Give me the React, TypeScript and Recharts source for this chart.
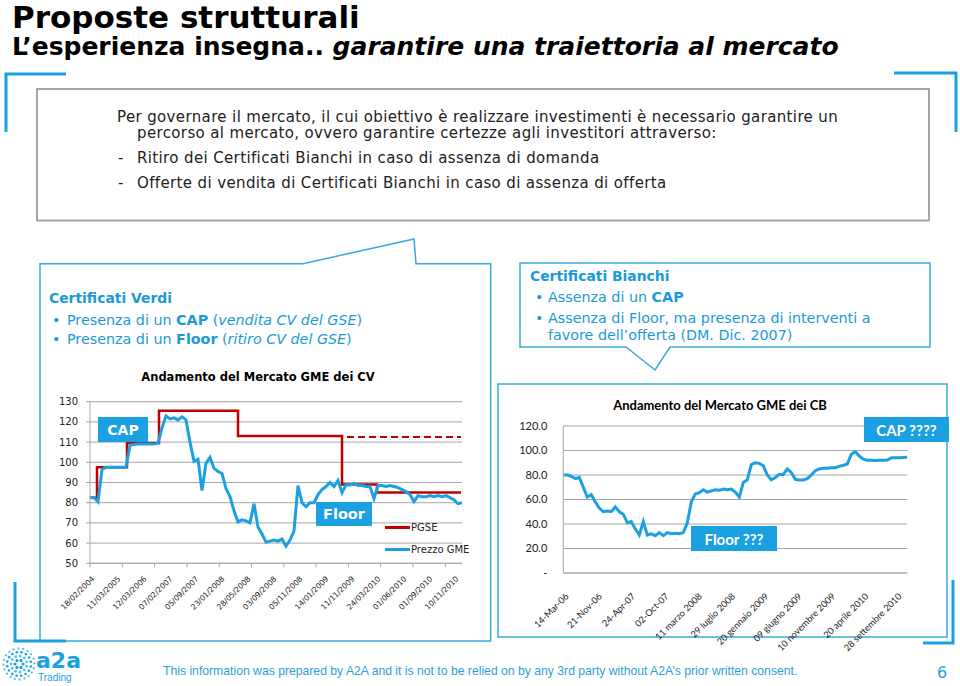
import React from "react";
import { LineChart, Line, XAxis, YAxis, CartesianGrid } from "recharts";

const BLUE = "#1ba1e2";
const RED = "#c00000";
const GRID = "#a6a6a6";
const TEXT_BLUE = "#1c9ad6";

// --- Andamento del Mercato GME dei CV ---
const cvTickLabels = [
  "18/02/2004", "11/03/2005", "12/03/2006", "07/02/2007", "05/09/2007",
  "23/01/2008", "28/05/2008", "03/09/2008", "05/11/2008", "14/01/2009",
  "11/11/2009", "24/03/2010", "01/06/2010", "01/09/2010", "10/11/2010",
];
const gmeValues = [
  82.5, 82.5, 80.5, 96.5, 97.5, 97.5, 97.5, 97.5, 97.5, 97.5,
  108.5, 108.8, 109, 109, 109, 109, 109, 109.5, 117, 123,
  121.5, 122, 121, 122.5, 121, 110, 100.5, 101.5, 86, 99.5,
  102.5, 97, 95.5, 94.5, 87, 83, 76, 70.5, 71.5, 71,
  70, 79.5, 68, 64.5, 60.5, 61, 61.5, 61, 62, 58.5,
  61.5, 66, 88.5, 80, 78, 80, 80, 84, 86.5, 88,
  90, 88, 91, 85, 88.8, 88.8, 89.5, 88.5, 88.5, 88,
  88, 82, 88.5, 88.5, 88, 88.5, 88, 87.5, 86.5, 85.5,
  84, 80.5, 83.5, 83, 83, 83.5, 83, 83.5, 83, 83.5,
  82.5, 81.5, 79.5, 80,
];
const pgseX = [0, 1.75, 9.25, 17.25, 37, 63, 71.75, 92.75];
const pgseY = [82.5, 97.5, 109.5, 125.5, 113, 89, 85, 85];
const pgseNextX = [64.25, 92.75];
const pgseNextY = [112.5, 112.5];
const cvYTicks = [50, 60, 70, 80, 90, 100, 110, 120, 130];
const cvLegend = [
  { name: "PGSE", color: RED },
  { name: "Prezzo GME", color: BLUE },
];

// --- Andamento del Mercato GME dei CB ---
const cbTickLabels = [
  "14-Mar-06", "21-Nov-06", "24-Apr-07", "02-Oct-07", "11 marzo 2008",
  "29 luglio 2008", "20 gennaio 2009", "09 giugno 2009", "10 novembre 2009",
  "20 aprile 2010", "28 settembre 2010",
];
const cbValues = [
  80, 80, 79, 77, 78, 70, 62, 64, 58, 53,
  50, 50.5, 50, 54, 50, 48, 41, 42, 36, 31,
  42, 31, 32, 30.5, 33, 30.5, 33, 32, 32.5, 32,
  33, 41, 58, 64.5, 65.5, 68, 66, 67, 68, 67.5,
  68.5, 68, 68.5, 66, 62, 74, 76, 88.5, 90, 89.5,
  87.5, 80, 76, 78, 80.5, 80.5, 85, 82, 76.5, 76,
  76, 77, 80, 83.5, 85, 85.5, 85.5, 86, 86, 87,
  88, 89, 97, 99, 95.5, 93, 92, 92, 91.8, 92,
  92, 92.2, 94, 94, 94, 94.3, 94.5,
];
const cbYTicks = [0, 20, 40, 60, 80, 100, 120];

const gmeData = gmeValues.map((v, i) => ({ i, gme: v }));
const pgseData = pgseX.map((x, k) => ({ i: x, pgse: pgseY[k] }));
const pgseNextData = pgseNextX.map((x, k) => ({ i: x, pgse: pgseNextY[k] }));
const cbData = cbValues.map((v, i) => ({ i, cb: v }));

const cvLabelTicks = cvTickLabels.map((_, k) => 0.75 + 6.5 * k);
const cvMarkTicks = Array.from({ length: 12 }, (_, k) => 8.075 * k);
const cbLabelTicks = cbTickLabels.map((_, k) => 0.5 + 8.325 * k);

function CvTick(props: any) {
  const { x, y, payload } = props;
  const li = cvLabelTicks.indexOf(payload.value);
  if (li < 0) {
    return <line x1={x} x2={x} y1={y} y2={y + 4} stroke={GRID} strokeWidth={1} />;
  }
  const tx = x + 2;
  const ty = y + 16;
  return (
    <text x={tx} y={ty} transform={`rotate(-45 ${tx} ${ty})`} textAnchor="end"
      fontFamily="DejaVu Sans" fontSize={7.6} fill="#222">
      {cvTickLabels[li]}
    </text>
  );
}

function CbTick(props: any) {
  const { x, y, payload } = props;
  const li = cbLabelTicks.indexOf(payload.value);
  if (li < 0) return null;
  const tx = x + 4;
  const ty = y + 24;
  return (
    <text x={tx} y={ty} transform={`rotate(-45 ${tx} ${ty})`} textAnchor="end"
      fontFamily="Lato" fontSize={9.2} fill="#222">
      {cbTickLabels[li]}
    </text>
  );
}

function CvChart() {
  return (
    <LineChart width={450} height={300} data={gmeData}
      margin={{ top: 41.7, right: 28, bottom: 19, left: 10 }}>
      <CartesianGrid vertical={false} stroke={GRID} strokeWidth={1} />
      <XAxis dataKey="i" type="number" domain={[0, 93]} allowDataOverflow
        ticks={[...cvMarkTicks, ...cvLabelTicks]} interval={0}
        tickLine={false} tickSize={0} tickMargin={0} height={77.7}
        axisLine={{ stroke: GRID }} tick={<CvTick />} />
      <YAxis domain={[50, 130]} ticks={cvYTicks} width={40} interval={0}
        axisLine={{ stroke: GRID }} tickLine={{ stroke: GRID }} tickSize={4} tickMargin={8}
        tick={{ fontFamily: "DejaVu Sans", fontSize: 10, fill: "#222" }} />
      <Line data={pgseData} dataKey="pgse" type="stepAfter" stroke={RED} strokeWidth={2.5}
        dot={false} isAnimationActive={false} />
      <Line data={pgseNextData} dataKey="pgse" type="linear" stroke={RED} strokeWidth={2}
        strokeDasharray="7 4" dot={false} isAnimationActive={false} />
      <Line dataKey="gme" type="linear" stroke={BLUE} strokeWidth={3}
        dot={false} isAnimationActive={false} />
    </LineChart>
  );
}

function CbChart() {
  return (
    <LineChart width={449} height={300} data={cbData}
      margin={{ top: 43, right: 39.7, bottom: 46, left: 15.3 }}>
      <CartesianGrid vertical={false} stroke={GRID} strokeWidth={1} />
      <XAxis dataKey="i" type="number" domain={[0, 86]} allowDataOverflow
        ticks={cbLabelTicks} interval={0} tickLine={false} tickSize={0} tickMargin={0}
        height={64} axisLine={{ stroke: GRID }} tick={<CbTick />} />
      <YAxis domain={[0, 120]} ticks={cbYTicks} width={50} interval={0}
        axisLine={{ stroke: GRID }} tickLine={false} tickSize={0} tickMargin={16}
        tickFormatter={(v: number) => (v === 0 ? "-" : v.toFixed(1))}
        tick={{ fontFamily: "Lato", fontSize: 11, fill: "#222" }} />
      <Line dataKey="cb" type="linear" stroke={BLUE} strokeWidth={3}
        dot={false} isAnimationActive={false} />
    </LineChart>
  );
}

const tagStyle = (left: number, top: number, w: number, h: number, font: string, size: number) => ({
  position: "absolute" as const, left, top, width: w, height: h, background: BLUE, color: "#fff",
  fontFamily: font, fontWeight: 700, fontSize: size, display: "flex",
  alignItems: "center", justifyContent: "center",
});

function Logo() {
  const dots: React.ReactNode[] = [];
  [[4, 6], [8, 11], [12, 16], [15.5, 20]].forEach(([r, n], ri) => {
    for (let k = 0; k < n; k++) {
      const a = (k / n) * Math.PI * 2 + ri * 0.3;
      dots.push(<circle key={`${ri}-${k}`} cx={19 + r * Math.cos(a)} cy={664 + r * Math.sin(a)}
        r={1.6 - ri * 0.15} fill={ri % 2 ? "#5cc0ea" : BLUE} />);
    }
  });
  return (
    <g>
      {dots}
      <text x={36} y={668} fontFamily="DejaVu Sans" fontWeight={700} fontSize={22} fill={BLUE}>a2a</text>
      <text x={38} y={681} fontFamily="Liberation Sans" fontSize={10} fill={BLUE}>Trading</text>
    </g>
  );
}

export default function App() {
  return (
    <div style={{ position: "absolute", left: 0, top: 0, width: 960, height: 686, background: "#fff", overflow: "hidden" }}>
      <svg width={960} height={686} style={{ position: "absolute", left: 0, top: 0 }}>
        <text x={12} y={28} fontFamily="DejaVu Sans" fontWeight={700} fontSize={31} fill="#000">Proposte strutturali</text>
        <text x={12} y={55} fontFamily="DejaVu Sans" fontWeight={700} fontSize={25} fill="#000">
          L’esperienza insegna.. <tspan fontStyle="italic">garantire una traiettoria al mercato</tspan>
        </text>

        <polyline points="66,74 6,74 6,132" fill="none" stroke={BLUE} strokeWidth={3} />
        <polyline points="894,73 956,73 956,132" fill="none" stroke={BLUE} strokeWidth={3} />
        <rect x={37} y={89} width={892} height={131.5} fill="none" stroke={GRID} strokeWidth={2} />

        <g fontFamily="DejaVu Sans" fontSize={15} letterSpacing={0.37} fill="#222">
          <text x={117} y={122}>Per governare il mercato, il cui obiettivo è realizzare investimenti è necessario garantire un</text>
          <text x={137} y={138}>percorso al mercato, ovvero garantire certezze agli investitori attraverso:</text>
          <text x={118} y={163}>-</text>
          <text x={137} y={163}>Ritiro dei Certificati Bianchi in caso di assenza di domanda</text>
          <text x={118} y={188}>-</text>
          <text x={137} y={188}>Offerte di vendita di Certificati Bianchi in caso di assenza di offerta</text>
        </g>

        <path d="M40,263.7 L303,263.7 L414,239 L416,263.7 L490.7,263.7 L490.7,641 L40,641 Z"
          fill="none" stroke="#3aaade" strokeWidth={1.5} />
        <path d="M520,263 L930,263 L930,347 L670,347 L655,370 L626,347 L520,347 Z"
          fill="none" stroke="#3aaade" strokeWidth={1.5} />
        <rect x={498} y={384} width={449} height={253} fill="none" stroke="#3aaade" strokeWidth={1.5} />

        <polyline points="15,582 15,641 66,641" fill="none" stroke={BLUE} strokeWidth={3} />
        <polyline points="953,580 953,643 923,643" fill="none" stroke={BLUE} strokeWidth={3} />

        <g fontFamily="DejaVu Sans" fontSize={14.3} fill={TEXT_BLUE}>
          <text x={49} y={303} fontWeight={700} fontSize={13.9}>Certificati Verdi</text>
          <text x={52} y={324.7}>•</text>
          <text x={67} y={324.7}>Presenza di un <tspan fontWeight={700}>CAP</tspan> (<tspan fontStyle="italic">vendita CV del GSE</tspan>)</text>
          <text x={52} y={344.3}>•</text>
          <text x={67} y={344.3}>Presenza di un <tspan fontWeight={700}>Floor</tspan> (<tspan fontStyle="italic">ritiro CV del GSE</tspan>)</text>

          <text x={530} y={281} fontWeight={700} fontSize={13.9}>Certificati Bianchi</text>
          <text x={535} y={302}>•</text>
          <text x={548} y={302}>Assenza di un <tspan fontWeight={700}>CAP</tspan></text>
          <text x={535} y={323}>•</text>
          <text x={548} y={323}>Assenza di Floor, ma presenza di interventi a</text>
          <text x={548} y={340}>favore dell’offerta (DM. Dic. 2007)</text>
        </g>

        <text x={258} y={381} textAnchor="middle" fontFamily="DejaVu Sans" fontWeight={700} fontSize={11.5} fill="#000">Andamento del Mercato GME dei CV</text>
        <text x={720} y={410} textAnchor="middle" fontFamily="Lato" fontWeight={700} fontSize={13} fill="#000">Andamento del Mercato GME dei CB</text>

        <Logo />
        <text x={163} y={675} fontFamily="Liberation Sans" fontSize={12.2} fill="#2b9fd9">This information was prepared by A2A and it is not to be relied on by any 3rd party without A2A’s prior written consent.</text>
        <text x={937} y={678} fontFamily="DejaVu Sans" fontSize={16} fill="#2b9fd9">6</text>
      </svg>

      <div style={{ position: "absolute", left: 40, top: 360 }}><CvChart /></div>
      <div style={{ position: "absolute", left: 498, top: 383 }}><CbChart /></div>

      {cvLegend.map((d, k) => (
        <div key={d.name} style={{ position: "absolute", left: 385, top: 517 + k * 21.6, height: 21.6,
          display: "flex", alignItems: "center", fontFamily: "DejaVu Sans", fontSize: 10, color: "#222" }}>
          <div style={{ width: 25, height: 3, background: d.color, marginRight: 1 }} />
          <span>{d.name}</span>
        </div>
      ))}

      <div style={tagStyle(98, 417, 50, 25, "DejaVu Sans", 14)}>CAP</div>
      <div style={tagStyle(316, 502, 56, 24, "DejaVu Sans", 14.5)}>Floor</div>
      <div style={tagStyle(864, 417, 85, 25, "Lato", 15)}>CAP ????</div>
      <div style={tagStyle(691, 526, 86, 25, "Lato", 15)}>Floor ???</div>
    </div>
  );
}
